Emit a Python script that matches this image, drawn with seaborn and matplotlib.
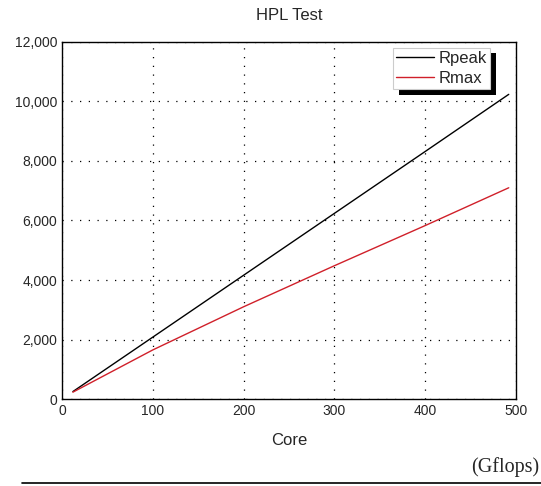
import pandas as pd
import matplotlib
matplotlib.use("Agg")
import matplotlib.pyplot as plt
import matplotlib.patheffects as pe
import seaborn as sns
from matplotlib.ticker import FuncFormatter, MultipleLocator

# values
cores = [12, 100, 200, 300, 400, 492]
rpeak = [250, 2080, 4160, 6240, 8320, 10240]
rmax = [230, 1650, 3100, 4480, 5830, 7100]

df = pd.DataFrame({
    "Core": cores * 2,
    "Gflops": rpeak + rmax,
    "series": ["Rpeak"] * len(cores) + ["Rmax"] * len(cores),
})

sns.set_style("white")
plt.rcParams["font.family"] = ["Liberation Sans", "DejaVu Sans"]

fig = plt.figure(figsize=(5.41, 4.86), dpi=100)
ax = fig.add_axes([0.1146, 0.179, 0.8392, 0.7346])

sns.lineplot(data=df, x="Core", y="Gflops", hue="series",
             palette={"Rpeak": "black", "Rmax": "#d0202a"},
             linewidth=1.0, ax=ax)

ax.set_xlim(0, 500)
ax.set_ylim(0, 12000)
ax.xaxis.set_major_locator(MultipleLocator(100))
ax.xaxis.set_minor_locator(MultipleLocator(50))
ax.yaxis.set_major_locator(MultipleLocator(2000))
ax.yaxis.set_minor_locator(MultipleLocator(1000))
ax.yaxis.set_major_formatter(FuncFormatter(lambda v, p: f"{int(v):,}"))
ax.tick_params(which="major", direction="in", length=5, width=1, labelsize=10)
ax.tick_params(which="minor", direction="in", length=3, width=1)
ax.grid(True, which="major", linestyle=(0, (1, 6)), color="black", linewidth=0.9)
for s in ax.spines.values():
    s.set_color("black")
    s.set_linewidth(1.0)

ax.set_title("HPL Test", fontsize=12, pad=16)
ax.set_xlabel("Core", fontsize=12, labelpad=11)
ax.set_ylabel("")

leg = ax.legend(loc="upper right", bbox_to_anchor=(0.943, 0.984), fontsize=12,
                frameon=True, fancybox=False, shadow=False,
                handlelength=2.3, handletextpad=0.25, borderpad=0.2,
                labelspacing=0.3, borderaxespad=0.0)
frame = leg.get_frame()
frame.set_edgecolor("#cccccc")
frame.set_linewidth(0.8)
frame.set_alpha(1)
frame.set_path_effects([
    pe.SimplePatchShadow(offset=(4.5, -4), shadow_rgbFace="black", alpha=1),
    pe.Normal(),
])

fig.text(0.997, 0.018, "(Gflops)", ha="right", va="bottom", fontsize=14.5,
         family=["Liberation Serif", "DejaVu Serif"])
fig.add_artist(plt.Line2D([0.04, 1.0], [0.006, 0.006], color="black",
                          linewidth=1.2, transform=fig.transFigure))

fig.savefig("out.png", dpi=100)
